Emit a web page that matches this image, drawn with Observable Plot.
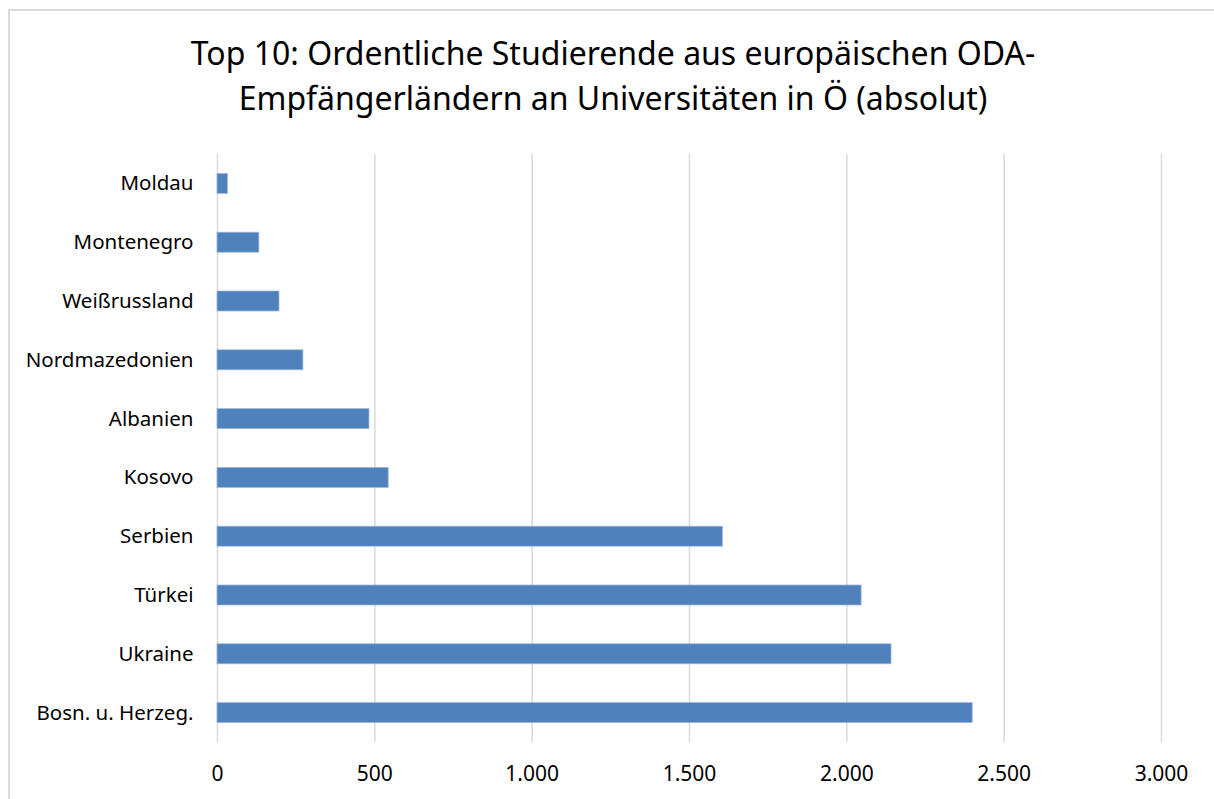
<!DOCTYPE html>
<html>
<head>
<meta charset="utf-8">
<script src="https://cdn.jsdelivr.net/npm/d3@7"></script>
<script src="https://cdn.jsdelivr.net/npm/@observablehq/plot@0.6"></script>
<style>
  html, body { margin: 0; padding: 0; background: #fff; }
  #wrap { position: relative; width: 1214px; height: 799px; overflow: hidden; font-family: "Noto Sans", sans-serif; }
  #border { position: absolute; left: 8px; top: 9px; width: 1220px; height: 820px; border: 2px solid #d9d9d9; box-sizing: border-box; }
  #title { position: absolute; left: 0; top: 30px; width: 1226px; text-align: center; font-size: 32px; line-height: 45px; color: #000; }
  #chart { position: absolute; left: 0; top: 0; }
</style>
</head>
<body>
<div id="wrap">
  <div id="border"></div>
  <div id="chart"></div>
  <div id="title">Top 10: Ordentliche Studierende aus europäischen ODA-<br>Empfängerländern an Universitäten in Ö (absolut)</div>
</div>
<script>
const countries = ["Moldau", "Montenegro", "Weißrussland", "Nordmazedonien", "Albanien", "Kosovo", "Serbien", "Türkei", "Ukraine", "Bosn. u. Herzeg."];
const students = [33, 133, 197, 273, 483, 544, 1606, 2047, 2142, 2400];
const xTicks = [0, 500, 1000, 1500, 2000, 2500, 3000];

const data = countries.map((c, i) => ({country: c, value: students[i]}));
const de = d3.formatLocale({decimal: ",", thousands: ".", grouping: [3], currency: ["", " €"]});
const fmt = de.format(",d");

const chart = Plot.plot({
  width: 1214,
  height: 799,
  marginTop: 154,
  marginBottom: 57,
  marginLeft: 217,
  marginRight: 53,
  style: {fontFamily: "Noto Sans, sans-serif", fontSize: "20px", color: "#000", background: "transparent"},
  x: {domain: [0, 3000], ticks: xTicks, tickFormat: fmt, label: null},
  y: {domain: countries, paddingInner: 0.66, paddingOuter: 0.33, round: false, label: null},
  marks: [
    Plot.gridX(xTicks, {stroke: "#d9d9d9", strokeOpacity: 1, strokeWidth: 1.5}),
    Plot.barX(data, {x: "value", y: "country", fill: "#4f81bd", stroke: "#9db7da", strokeWidth: 0.75}),
    Plot.axisX(xTicks, {tickSize: 0, tickPadding: 24, tickFormat: fmt, fontSize: 21, label: null}),
    Plot.axisY({tickSize: 0, tickPadding: 24, fontSize: 20.5, label: null})
  ]
});
document.getElementById("chart").appendChild(chart);
</script>
</body>
</html>
